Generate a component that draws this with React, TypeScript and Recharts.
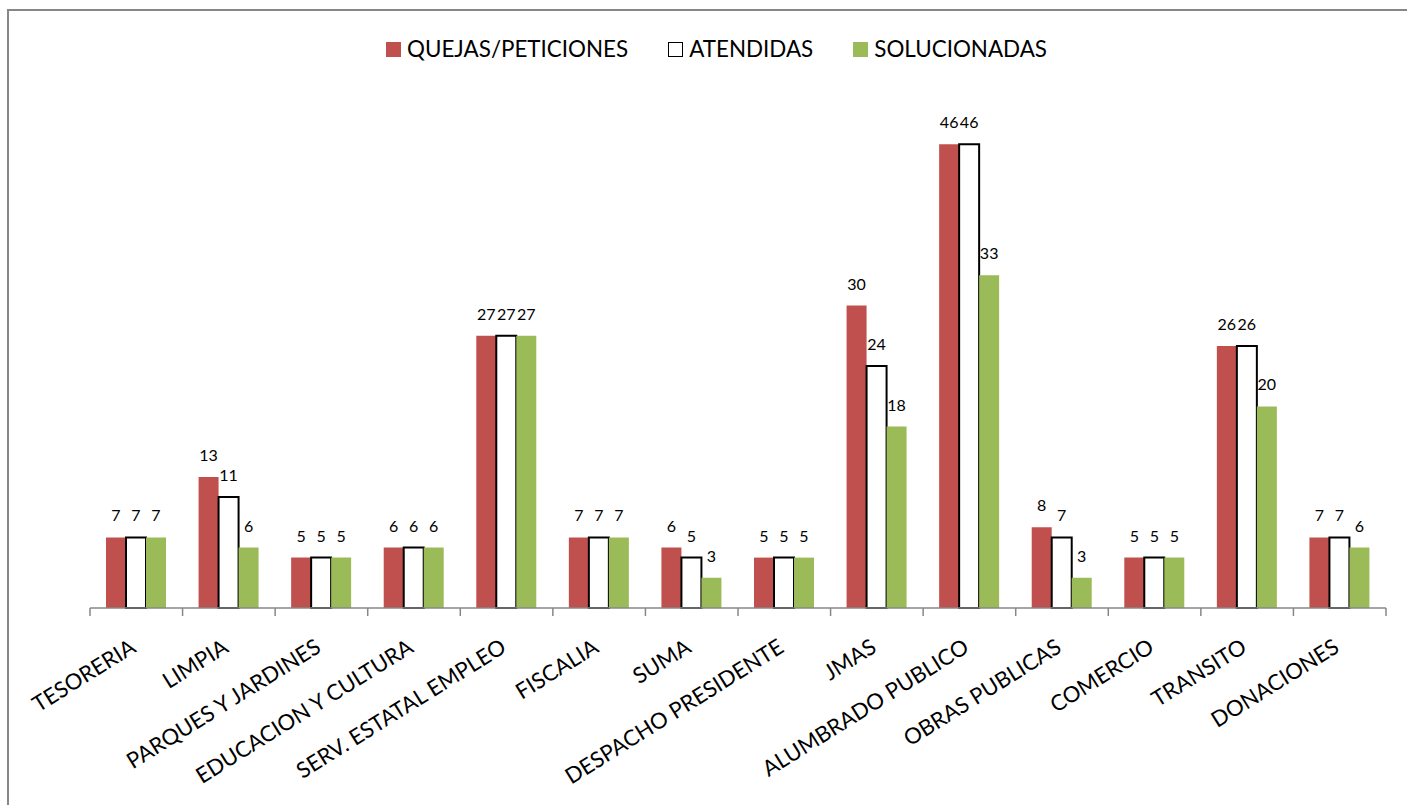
import { Bar, BarChart, LabelList, Legend, XAxis, YAxis } from 'recharts';

const categories = [
  'TESORERIA',
  'LIMPIA',
  'PARQUES Y JARDINES',
  'EDUCACION Y CULTURA',
  'SERV. ESTATAL EMPLEO',
  'FISCALIA',
  'SUMA',
  'DESPACHO PRESIDENTE',
  'JMAS',
  'ALUMBRADO PUBLICO',
  'OBRAS PUBLICAS',
  'COMERCIO',
  'TRANSITO',
  'DONACIONES',
];

const quejas = [7, 13, 5, 6, 27, 7, 6, 5, 30, 46, 8, 5, 26, 7];
const atendidas = [7, 11, 5, 6, 27, 7, 5, 5, 24, 46, 7, 5, 26, 7];
const solucionadas = [7, 6, 5, 6, 27, 7, 3, 5, 18, 33, 3, 5, 20, 6];

const series = [
  { key: 'quejas', name: 'QUEJAS/PETICIONES', fill: '#C0504D', stroke: 'none' },
  { key: 'atendidas', name: 'ATENDIDAS', fill: '#FFFFFF', stroke: '#000000' },
  { key: 'solucionadas', name: 'SOLUCIONADAS', fill: '#9BBB59', stroke: 'none' },
];

const chartData = categories.map((name, i) => ({
  name,
  quejas: quejas[i],
  atendidas: atendidas[i],
  solucionadas: solucionadas[i],
}));

const WIDTH = 1407;
const HEIGHT = 805;
const PLOT_LEFT = 90;
const PLOT_RIGHT = 1386;
const BAND = (PLOT_RIGHT - PLOT_LEFT) / categories.length;
const AXIS_GRAY = '#878787';
const FONT = 'Lato, "Open Sans", sans-serif';

type TickProps = { x: number; y: number; index: number; payload: { value: string } };

const CategoryTick = (props: unknown) => {
  const { x, y, index, payload } = props as TickProps;
  const tx = x + 1;
  const ty = y + 43;
  return (
    <g>
      <line x1={x - BAND / 2} x2={x - BAND / 2} y1={y} y2={y + 8} stroke={AXIS_GRAY} strokeWidth={1.5} />
      {index === categories.length - 1 && (
        <line x1={x + BAND / 2} x2={x + BAND / 2} y1={y} y2={y + 8} stroke={AXIS_GRAY} strokeWidth={1.5} />
      )}
      <text
        x={tx}
        y={ty}
        textAnchor="end"
        transform={`rotate(-32 ${tx} ${ty})`}
        fontFamily={FONT}
        fontSize={22}
        fill="#000"
      >
        {payload.value}
      </text>
    </g>
  );
};

const renderLegend = () => (
  <div style={{ display: 'flex', alignItems: 'center', fontFamily: FONT, fontSize: 22.4, lineHeight: '26.4px', color: '#000' }}>
    {series.map((s, i) => (
      <div key={s.key} style={{ display: 'flex', alignItems: 'center', marginLeft: i === 0 ? 0 : 40 }}>
        <span
          style={{
            display: 'inline-block',
            width: s.stroke === 'none' ? 15 : 13,
            height: s.stroke === 'none' ? 15 : 13,
            background: s.fill,
            border: s.stroke === 'none' ? 'none' : `1px solid ${s.stroke}`,
            marginRight: 6,
          }}
        />
        <span style={{ whiteSpace: 'nowrap' }}>{s.name}</span>
      </div>
    ))}
  </div>
);

export default function App() {
  return (
    <div style={{ position: 'absolute', left: 0, top: 0, width: WIDTH, height: HEIGHT, overflow: 'hidden', background: '#fff' }}>
      <div
        style={{
          position: 'absolute',
          left: 7,
          top: 9,
          width: WIDTH + 20,
          height: HEIGHT + 20,
          borderLeft: `2px solid ${AXIS_GRAY}`,
          borderTop: `2px solid ${AXIS_GRAY}`,
        }}
      />
      <BarChart
        width={WIDTH}
        height={HEIGHT}
        data={chartData}
        margin={{ top: 104, right: WIDTH - PLOT_RIGHT, bottom: 0, left: PLOT_LEFT }}
        barGap={0}
        barSize={20}
      >
        <XAxis
          dataKey="name"
          height={HEIGHT - 608}
          interval={0}
          tickLine={false}
          tickSize={0}
          tickMargin={0}
          axisLine={{ stroke: AXIS_GRAY, strokeWidth: 1.5 }}
          tick={CategoryTick}
        />
        <YAxis hide domain={[0, 50]} />
        <Legend
          verticalAlign="middle"
          align="center"
          content={renderLegend}
          wrapperStyle={{ position: 'absolute', top: 36, left: 386, width: 'auto', height: 'auto' }}
        />
        {series.map((s) => (
          <Bar
            key={s.key}
            dataKey={s.key}
            name={s.name}
            fill={s.fill}
            stroke={s.stroke}
            strokeWidth={s.stroke === 'none' ? 0 : 2}
            isAnimationActive={false}
          >
            <LabelList dataKey={s.key} position="top" offset={16} fill="#000" fontFamily={FONT} fontSize={16} />
          </Bar>
        ))}
      </BarChart>
    </div>
  );
}
